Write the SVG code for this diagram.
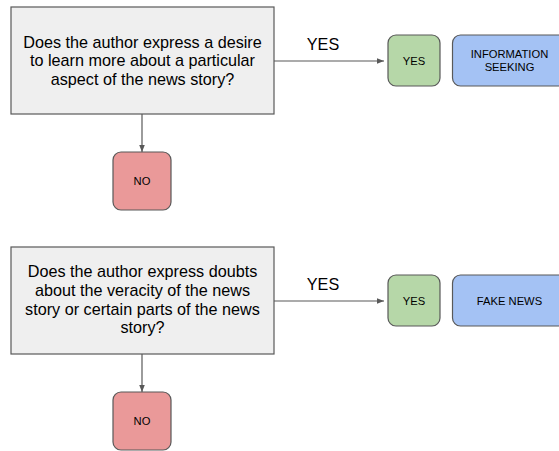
<svg xmlns="http://www.w3.org/2000/svg" width="559" height="451" viewBox="0 0 559 451">
<defs>
<style>
.q{fill:#efefef;stroke:#595959;stroke-width:1.2}
.no{fill:#ea9999;stroke:#595959;stroke-width:1.2}
.yes{fill:#b6d7a8;stroke:#595959;stroke-width:1.2}
.cat{fill:#a4c2f4;stroke:#595959;stroke-width:1.2}
.qt{font-family:"Liberation Sans",Arial,sans-serif;font-size:16.2px;fill:#000;text-anchor:middle}
.st{font-family:"Liberation Sans",Arial,sans-serif;font-size:11.2px;fill:#000;text-anchor:middle}
.conn{stroke:#595959;stroke-width:1.2;fill:none}
</style>
<marker id="ah" viewBox="0 0 10 10" refX="10" refY="5" markerWidth="7" markerHeight="7" orient="auto" markerUnits="userSpaceOnUse">
<path d="M0,1 L10,5 L0,9 z" fill="#595959"/>
</marker>
</defs>
<rect width="559" height="451" fill="#fff"/>
<g id="connectors">
<line class="conn" x1="274" y1="61" x2="384" y2="61" marker-end="url(#ah)"/>
<line class="conn" x1="142" y1="114" x2="142" y2="152" marker-end="url(#ah)"/>
<line class="conn" x1="274" y1="301" x2="384" y2="301" marker-end="url(#ah)"/>
<line class="conn" x1="142" y1="354" x2="142" y2="392" marker-end="url(#ah)"/>
<text class="qt" x="323" y="49.5">YES</text>
<text class="qt" x="323" y="289.5">YES</text>
</g>
<g id="q1">
<rect class="q" x="11" y="7" width="263" height="107"/>
<text class="qt" x="142.5" y="47.5">Does the author express a desire</text>
<text class="qt" x="142.5" y="66.3">to learn more about a particular</text>
<text class="qt" x="142.5" y="85">aspect of the news story?</text>
</g>
<g id="no1">
<rect class="no" x="113" y="152" width="58" height="58" rx="8"/>
<text class="st" x="142" y="185">NO</text>
</g>
<g id="yes1">
<rect class="yes" x="388" y="35" width="52" height="51" rx="8"/>
<text class="st" x="414" y="65">YES</text>
</g>
<g id="cat1">
<rect class="cat" x="452.5" y="35" width="115" height="51" rx="8"/>
<text class="st" x="509.5" y="58.3">INFORMATION</text>
<text class="st" x="509.5" y="70.5">SEEKING</text>
</g>
<g id="q2">
<rect class="q" x="11" y="247" width="263" height="107"/>
<text class="qt" x="142.5" y="277">Does the author express doubts</text>
<text class="qt" x="142.5" y="295.8">about the veracity of the news</text>
<text class="qt" x="142.5" y="314.6">story or certain parts of the news</text>
<text class="qt" x="142.5" y="333.4">story?</text>
</g>
<g id="no2">
<rect class="no" x="113" y="392" width="58" height="58" rx="8"/>
<text class="st" x="142" y="425">NO</text>
</g>
<g id="yes2">
<rect class="yes" x="388" y="275" width="52" height="51" rx="8"/>
<text class="st" x="414" y="305">YES</text>
</g>
<g id="cat2">
<rect class="cat" x="452.5" y="275" width="115" height="51" rx="8"/>
<text class="st" x="509.5" y="305">FAKE NEWS</text>
</g>
</svg>
